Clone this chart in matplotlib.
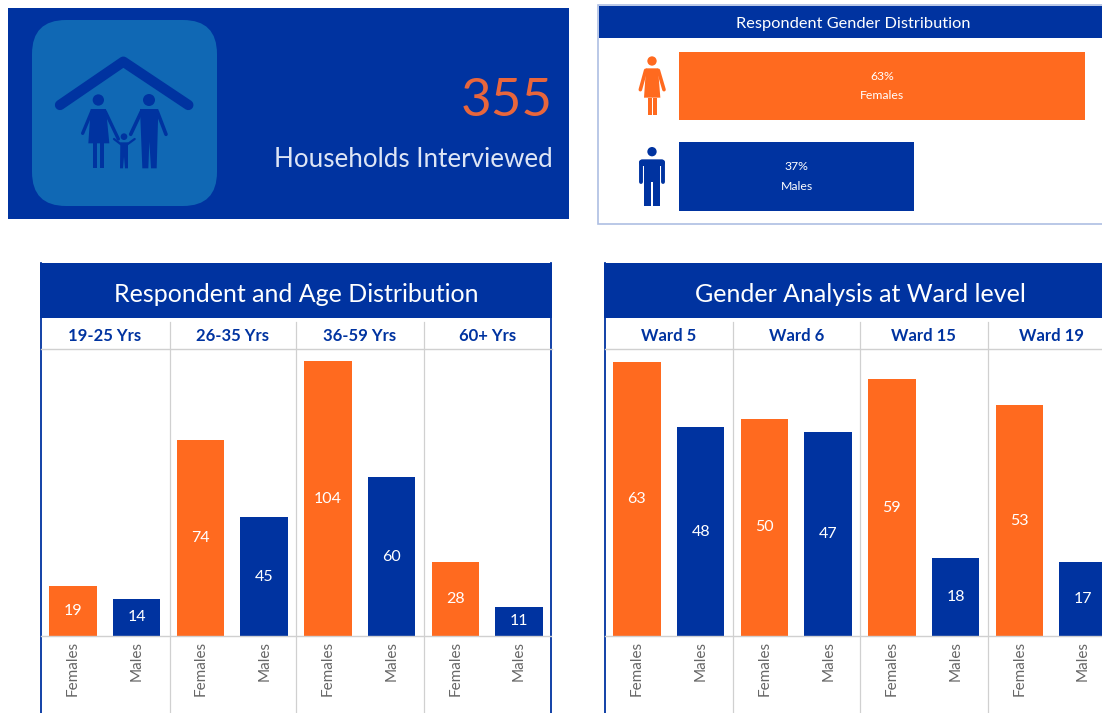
"""Household survey dashboard: gender and age charts."""
import matplotlib

matplotlib.use("Agg")
matplotlib.rcParams["font.family"] = ["Lato", "DejaVu Sans"]

import matplotlib.pyplot as plt
from matplotlib.patches import Circle, FancyBboxPatch, Polygon, Rectangle

W, H = 1102, 713

BLUE = "#0033a0"
ORANGE = "#ff6a1f"
TILE = "#1068b4"
GREY_LINE = "#d0d0d0"
GREY_TEXT = "#666666"
PALE_BORDER = "#aebfe3"

households = "355"
households_label = "Households Interviewed"

gender_title = "Respondent Gender Distribution"
gender_names = ["Females", "Males"]
gender_values = [63.0, 36.5]
gender_labels = ["63%", "37%"]

bar_names = ["Females", "Males"] * 4

age_title = "Respondent and Age Distribution"
age_groups = ["19-25 Yrs", "26-35 Yrs", "36-59 Yrs", "60+ Yrs"]
age_values = [19, 14, 74, 45, 104, 60, 28, 11]

ward_title = "Gender Analysis at Ward level"
ward_groups = ["Ward 5", "Ward 6", "Ward 15", "Ward 19"]
ward_values = [63, 48, 50, 47, 59, 18, 53, 17]


def px_axes(fig, x0, y0, x1, y1):
    # axes placed by pixel box, y measured from the top of the image
    return fig.add_axes([x0 / W, 1 - y1 / H, (x1 - x0) / W, (y1 - y0) / H])


def shape(bg, pts, ox, oy, color):
    pts = [(ox + x / 3, oy + y / 3) for x, y in pts]
    bg.add_patch(Polygon(pts, closed=True, color=color, lw=0))


def limb(bg, pts, ox, oy, color, lw):
    xs = [ox + p[0] / 3 for p in pts]
    ys = [oy + p[1] / 3 for p in pts]
    bg.plot(xs, ys, color=color, lw=lw, solid_capstyle="round", solid_joinstyle="round")


def head(bg, x, y, r, ox, oy, color):
    bg.add_patch(Circle((ox + x / 3, oy + y / 3), r / 3, color=color, lw=0))


def draw_family(bg):
    ox, oy = 40, 45
    limb(bg, [(60, 180), (250, 50), (445, 180)], ox, oy, BLUE, 7.4)
    # woman
    head(bg, 175, 165, 17, ox, oy, BLUE)
    shape(bg, [(152, 192), (198, 192), (208, 295), (145, 295)], ox, oy, BLUE)
    limb(bg, [(155, 200), (128, 265)], ox, oy, BLUE, 2.4)
    limb(bg, [(196, 200), (235, 282)], ox, oy, BLUE, 2.4)
    shape(bg, [(158, 295), (170, 295), (170, 370), (158, 370)], ox, oy, BLUE)
    shape(bg, [(180, 295), (192, 295), (192, 370), (180, 370)], ox, oy, BLUE)
    # man
    head(bg, 327, 165, 18, ox, oy, BLUE)
    shape(bg, [(300, 192), (355, 192), (350, 370), (333, 370), (328, 290),
               (325, 370), (307, 370)], ox, oy, BLUE)
    limb(bg, [(304, 200), (272, 268)], ox, oy, BLUE, 2.6)
    limb(bg, [(352, 200), (378, 268)], ox, oy, BLUE, 2.6)
    # child
    head(bg, 252, 275, 10, ox, oy, BLUE)
    shape(bg, [(241, 292), (264, 292), (264, 370), (255, 370), (252, 335),
               (249, 370), (240, 370)], ox, oy, BLUE)
    limb(bg, [(243, 298), (222, 282)], ox, oy, BLUE, 1.6)
    limb(bg, [(262, 298), (284, 282)], ox, oy, BLUE, 1.6)


def draw_female(bg):
    ox, oy = 625, 45
    head(bg, 81, 48, 14, ox, oy, ORANGE)
    shape(bg, [(63, 70), (99, 70), (106, 158), (57, 158)], ox, oy, ORANGE)
    limb(bg, [(62, 76), (46, 134)], ox, oy, ORANGE, 2.6)
    limb(bg, [(100, 76), (117, 134)], ox, oy, ORANGE, 2.6)
    shape(bg, [(69, 158), (80, 158), (80, 210), (69, 210)], ox, oy, ORANGE)
    shape(bg, [(85, 158), (96, 158), (96, 210), (85, 210)], ox, oy, ORANGE)


def draw_male(bg):
    ox, oy = 625, 45
    head(bg, 81, 320, 14, ox, oy, BLUE)
    bg.add_patch(FancyBboxPatch((ox + 43 / 3, oy + 343 / 3), 76 / 3, 20 / 3,
                                boxstyle="round,pad=0,rounding_size=3", color=BLUE, lw=0))
    shape(bg, [(58, 345), (105, 345), (105, 410), (58, 410)], ox, oy, BLUE)
    shape(bg, [(58, 405), (78, 405), (78, 483), (58, 483)], ox, oy, BLUE)
    shape(bg, [(84, 405), (104, 405), (104, 483), (84, 483)], ox, oy, BLUE)
    limb(bg, [(47, 352), (47, 412)], ox, oy, BLUE, 2.8)
    limb(bg, [(114, 352), (114, 412)], ox, oy, BLUE, 2.8)


def draw_panel(bg, x0, x1, title, separators, title_x):
    bg.add_patch(Rectangle((x0, 263), x1 - x0, 55, color=BLUE, lw=0))
    bg.plot([x0 + 0.7, x0 + 0.7], [263, 713], color=BLUE, lw=1.3)
    if x1 < W:
        bg.plot([x1 - 0.7, x1 - 0.7], [263, 713], color=BLUE, lw=1.3)
    bg.plot([x0 + 1, x1], [349, 349], color=GREY_LINE, lw=1.0)
    for s in separators:
        bg.plot([s, s], [322, 713], color=GREY_LINE, lw=0.9)
    bg.text(title_x, 294, title, color="white", fontsize=18, ha="center", va="center")


def draw_bars(fig, x0, x1, values, groups, names, px_per_unit):
    ax = px_axes(fig, x0, 318, x1, 636)
    ax.patch.set_alpha(0)
    xs = list(range(len(values)))
    colors = [ORANGE, BLUE] * (len(values) // 2)
    bars = ax.bar(xs, values, width=0.745, color=colors)
    ax.bar_label(bars, label_type="center", color="white", fontsize=11.5, padding=0)
    ax.set_xlim(-0.5, len(values) - 0.5)
    ax.set_ylim(0, 318 / px_per_unit)
    ax.set_xticks(xs)
    ax.set_xticklabels(names, rotation=90, color=GREY_TEXT, fontsize=11)
    ax.tick_params(axis="x", length=0, pad=3.5)
    ax.set_yticks([])
    for side in ["top", "left", "right"]:
        ax.spines[side].set_visible(False)
    ax.spines["bottom"].set_color(GREY_LINE)
    ax.spines["bottom"].set_linewidth(1.0)
    for i, g in enumerate(groups):
        ax.text(2 * i + 0.5, 1 - 18 / 318, g, transform=ax.get_xaxis_transform(),
                color=BLUE, fontsize=12, fontweight="bold", ha="center", va="center")
    return ax


fig = plt.figure(figsize=(W / 100, H / 100), dpi=100, facecolor="white")
bg = fig.add_axes([0, 0, 1, 1])
bg.set_xlim(0, W)
bg.set_ylim(H, 0)
bg.axis("off")

# households tile
bg.add_patch(Rectangle((8, 8), 561, 211, color=BLUE, lw=0))
bg.add_patch(FancyBboxPatch((32, 20), 185, 186, boxstyle="round,pad=0,rounding_size=34",
                            color=TILE, lw=0))
draw_family(bg)
bg.text(553, 116, households, color="#e8663c", fontsize=38, ha="right", va="baseline")
bg.text(553, 167, households_label, color="#dde5f5", fontsize=18.7, ha="right", va="baseline")

# gender panel
bg.add_patch(Rectangle((597.5, 4.5), 510, 219, facecolor="white", edgecolor=PALE_BORDER, lw=1.2))
bg.add_patch(Rectangle((599, 6), 503, 32, color=BLUE, lw=0))
bg.text(853, 24, gender_title, color="white", fontsize=11.8, ha="center", va="center")
draw_female(bg)
draw_male(bg)

gax = px_axes(fig, 679, 40, 1100, 222)
gax.patch.set_alpha(0)
gax.axis("off")
ypos = list(range(len(gender_values)))
gbars = gax.barh(ypos, gender_values, height=0.757, color=[ORANGE, BLUE])
gax.set_xlim(0, 421 / 6.44)
gax.set_ylim(1.503, -0.508)
for y, v, pct, name in zip(ypos, gender_values, gender_labels, gender_names):
    gax.text(v / 2, y, f"{pct}\n{name}", color="white", fontsize=8.8, ha="center",
             va="center", linespacing=1.9)

# age and ward panels
draw_panel(bg, 40, 552, age_title, [170, 296, 424], 296)
draw_panel(bg, 604, W, ward_title, [733, 860, 988], 860)
draw_bars(fig, 41, 551, age_values, age_groups, bar_names, 2.644)
draw_bars(fig, 605, 1115, ward_values, ward_groups, bar_names, 4.35)

fig.savefig("out.png", dpi=100, facecolor="white")
plt.close(fig)
